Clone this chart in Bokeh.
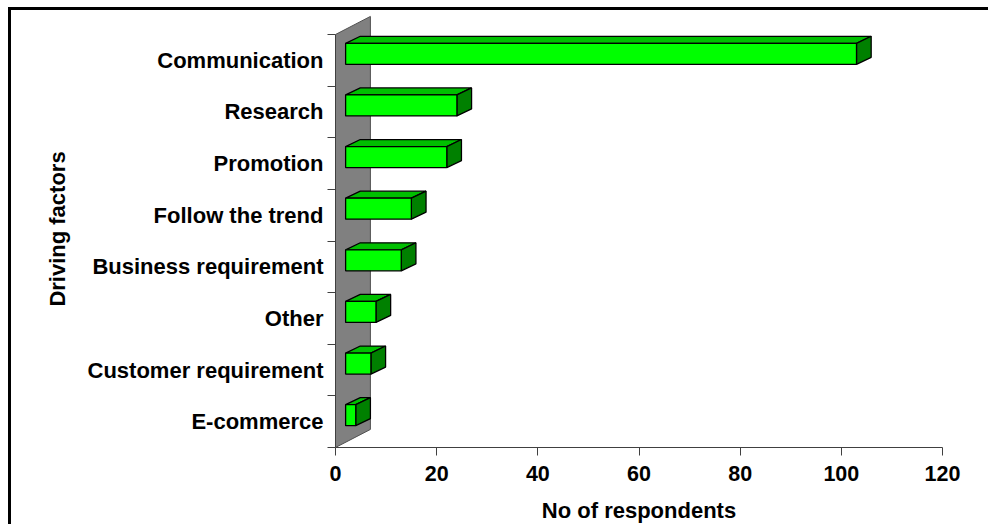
from bokeh.plotting import figure
from bokeh.models import Range1d, FixedTicker
from bokeh.embed import file_html
from bokeh.resources import INLINE

categories = ["E-commerce", "Customer requirement", "Other", "Business requirement",
              "Follow the trend", "Promotion", "Research", "Communication"]
values = [4, 7, 8, 13, 15, 22, 24, 103]
x_ticks = [0, 20, 40, 60, 80, 100, 120]
x_title = "No of respondents"
y_title = "Driving factors"

BASE = 2.0          # bars start a little off the wall
DX, DY = 2.9, 0.136    # bar depth
WX, WY = 6.9, 0.35     # wall depth
HALF = 0.2035
SHIFT = 0.126

FONT = "Liberation Sans"
p = figure(width=980, height=517, output_backend="svg", toolbar_location=None,
           x_range=Range1d(0, 120), y_range=Range1d(0, 8.465),
           min_border_left=324, min_border_right=49, min_border_top=0, min_border_bottom=80,
           background_fill_color="white", border_fill_color="white")
p.styles = {"border-top": "3px solid black", "border-left": "3px solid black",
            "margin-left": "8px", "margin-top": "7px"}
p.grid.visible = False
p.outline_line_color = None

p.patch([0, WX, WX, 0], [0, WY, 8 + WY, 8], fill_color="#808080", line_color="#505050", line_width=1)

for i, v in enumerate(values):
    y0 = i + 0.5 + SHIFT - HALF
    y1 = i + 0.5 + SHIFT + HALF
    p.patch([BASE, BASE + DX, v + DX, v], [y1, y1 + DY, y1 + DY, y1],
            fill_color="#00BF00", line_color="#000000", line_width=1.3)
    p.patch([v, v + DX, v + DX, v], [y0, y0 + DY, y1 + DY, y1],
            fill_color="#008000", line_color="#000000", line_width=1.3)
    p.patch([BASE, v, v, BASE], [y0, y0, y1, y1],
            fill_color="#00FF00", line_color="#000000", line_width=1.3)

xa = p.xaxis[0]
xa.ticker = FixedTicker(ticks=x_ticks)
xa.axis_label = x_title
xa.major_tick_out = 8
xa.major_tick_in = 0
xa.minor_tick_out = 0
xa.minor_tick_in = 0
xa.major_label_standoff = 10
xa.axis_label_standoff = 14

ya = p.yaxis[0]
ya.ticker = FixedTicker(ticks=[i + 0.5 for i in range(len(categories))],
                        minor_ticks=list(range(len(categories) + 1)))
ya.major_label_overrides = {i + 0.5: c for i, c in enumerate(categories)}
ya.bounds = (0, 8)
ya.major_tick_out = 0
ya.major_tick_in = 0
ya.minor_tick_out = 8
ya.minor_tick_in = 0
ya.major_label_standoff = 4
ya.axis_label = y_title
ya.axis_label_standoff = 15

for a in (xa, ya):
    a.axis_line_color = "#404040"
    a.major_tick_line_color = "#404040"
    a.minor_tick_line_color = "#404040"
    a.major_label_text_font = FONT
    a.major_label_text_font_style = "bold"
    a.major_label_text_color = "black"
    a.axis_label_text_font = FONT
    a.axis_label_text_font_style = "bold"
    a.axis_label_text_color = "black"
    a.axis_label_text_font_size = "22px"
xa.major_label_text_font_size = "21.5px"
ya.major_label_text_font_size = "22px"

open("out.html", "w").write(file_html(p, INLINE))
